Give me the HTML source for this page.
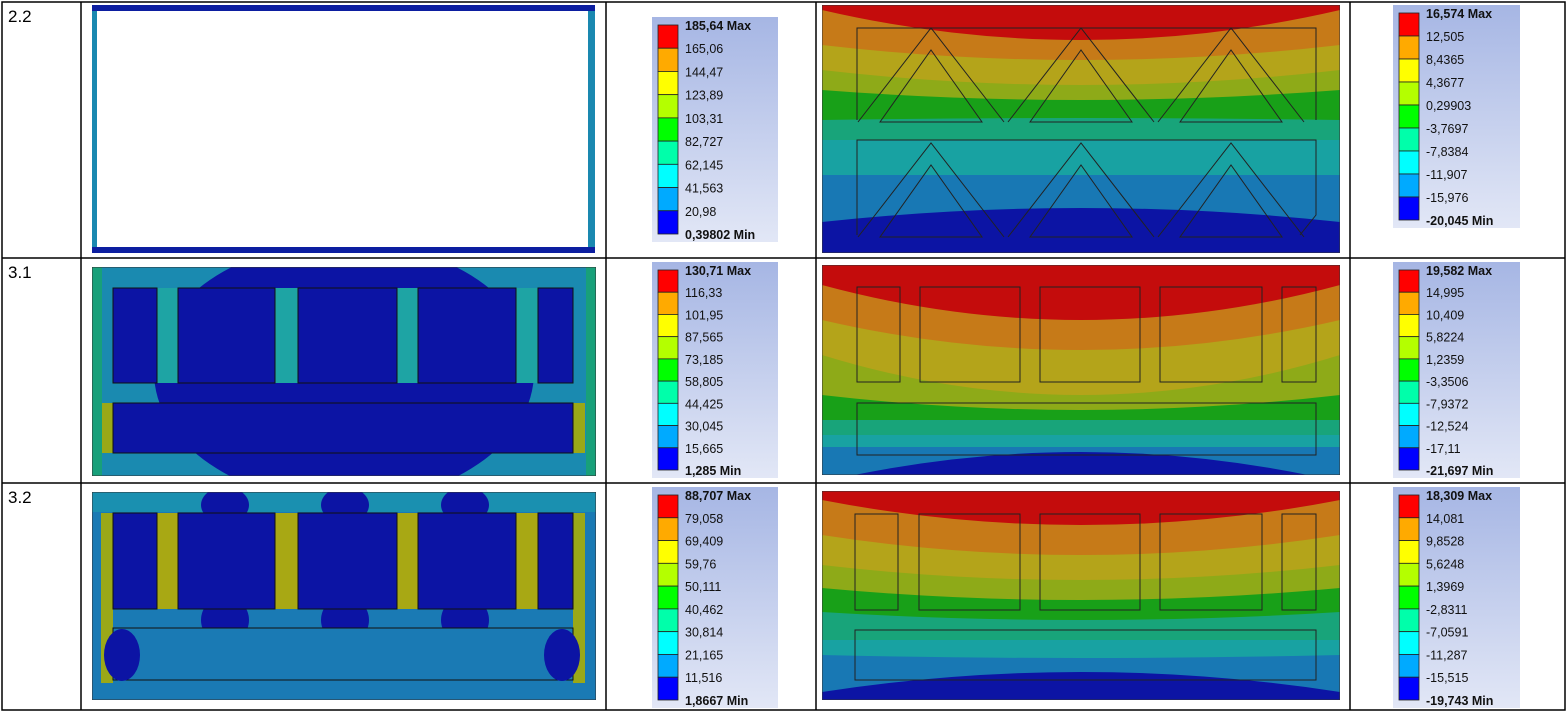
<!DOCTYPE html>
<html><head><meta charset="utf-8">
<style>
body{margin:0;background:#fff;font-family:"Liberation Sans",sans-serif}
svg{display:block}
.lbl{font-family:"Liberation Sans",sans-serif;font-size:17px}
.lg{font-family:"Liberation Sans",sans-serif;font-size:12.5px;fill:#111}
.lgb{font-weight:bold}
</style></head>
<body>
<svg id="s" width="1567" height="714" viewBox="0 0 1567 714">
<defs>
<linearGradient id="lgbg" x1="0" y1="0" x2="0" y2="1"><stop offset="0" stop-color="#a6b6e4"/><stop offset="1" stop-color="#e2e7f6"/></linearGradient>
<clipPath id="c1"><rect x="92" y="5" width="503" height="248"/></clipPath>
<clipPath id="c2"><rect x="822" y="5" width="518" height="248"/></clipPath>
<clipPath id="c3"><rect x="92" y="267" width="504" height="209"/></clipPath>
<clipPath id="c4"><rect x="822" y="265" width="518" height="210"/></clipPath>
<clipPath id="c5"><rect x="92" y="492" width="504" height="208"/></clipPath>
<clipPath id="c6"><rect x="822" y="491" width="518" height="209"/></clipPath>
</defs>
<g id="cells"></g>
<g id="grid" stroke="#000" stroke-width="1.5" fill="none">
<rect x="2" y="2" width="1563" height="708"/>
<line x1="2" y1="258" x2="1565" y2="258"/><line x1="2" y1="483" x2="1565" y2="483"/>
<line x1="81" y1="2" x2="81" y2="710"/><line x1="606" y1="2" x2="606" y2="710"/>
<line x1="816" y1="2" x2="816" y2="710"/><line x1="1350" y1="2" x2="1350" y2="710"/>
</g>
<text class="lbl" x="8" y="22">2.2</text>
<text class="lbl" x="8" y="278">3.1</text>
<text class="lbl" x="8" y="503">3.2</text>
</svg>
<script>
const legendColors=["#ff0000","#ffaa00","#ffff00","#b4ff00","#00ff00","#00ffaa","#00ffff","#00aaff","#0000ff"];
const bandColors=["#c40c0c","#c67a18","#b4a41a","#8eaa18","#18a018","#18a47a","#18a2a2","#1878b4","#0c14a4"];
const legend22L=["185,64 Max","165,06","144,47","123,89","103,31","82,727","62,145","41,563","20,98","0,39802 Min"];
const legend22R=["16,574 Max","12,505","8,4365","4,3677","0,29903","-3,7697","-7,8384","-11,907","-15,976","-20,045 Min"];
const legend31L=["130,71 Max","116,33","101,95","87,565","73,185","58,805","44,425","30,045","15,665","1,285 Min"];
const legend31R=["19,582 Max","14,995","10,409","5,8224","1,2359","-3,3506","-7,9372","-12,524","-17,11","-21,697 Min"];
const legend32L=["88,707 Max","79,058","69,409","59,76","50,111","40,462","30,814","21,165","11,516","1,8667 Min"];
const legend32R=["18,309 Max","14,081","9,8528","5,6248","1,3969","-2,8311","-7,0591","-11,287","-15,515","-19,743 Min"];
// band boundaries [edgeY, centerY]
const bounds22=[[10,40],[45,60],[70,85],[90,100],[120,118],[140,140],[175,175],[222,208]];
const bounds31=[[285,320],[320,350],[355,395],[395,410],[420,420],[435,435],[447,447],[482,452]];
const bounds32=[[500,525],[535,555],[565,580],[588,600],[612,620],[640,640],[655,658],[692,672]];
const NS="http://www.w3.org/2000/svg";
const g=document.getElementById('cells');
function el(tag,a,parent){const e=document.createElementNS(NS,tag);for(const k in a)e.setAttribute(k,a[k]);(parent||g).appendChild(e);return e;}
function legend(x,y,w,h,labels,name){
  const grp=el('g',{});
  
  
  el('rect',{x:x,y:y,width:w,height:h,fill:'url(#lgbg)'},grp);
  const top=y+8,bot=y+h-8,n=legendColors.length,step=(bot-top)/n;
  legendColors.forEach((c,i)=>{
    const r=el('rect',{x:x+6,y:top+i*step,width:20,height:step,fill:c,stroke:'#222','stroke-width':0.8},grp);
    
    
  });
  labels.forEach((t,i)=>{
    const tx=el('text',{x:x+33,y:top+i*step+5,class:'lg'+(i==0||i==labels.length-1?' lgb':'')},grp);
    tx.textContent=t;
    
    
  });
}
function contour(x,y,w,h,bounds,name,clip){
  const grp=el('g',{'clip-path':'url(#'+clip+')'});
  
  
  el('rect',{x:x,y:y,width:w,height:h,fill:bandColors[bandColors.length-1]},grp);
  for(let i=bounds.length-1;i>=0;i--){
    const [e,c]=bounds[i];
    const cy=2*c-e;
    const p=el('path',{d:`M${x},${y} L${x+w},${y} L${x+w},${e} Q${x+w/2},${cy} ${x},${e} Z`,fill:bandColors[i]},grp);
    
    
  }
  el('rect',{x:x,y:y,width:w,height:h,fill:'none',stroke:'#333','stroke-width':1},grp);
  return grp;
}
// Row 2.2
legend(652,17,126,225,legend22L,'legend-2-2-left');
legend(1393,5,127,223,legend22R,'legend-2-2-right');
const p1=el('g',{'clip-path':'url(#c1)'});


el('rect',{x:92,y:5,width:503,height:248,fill:'#1a88b0'},p1);
el('rect',{x:92,y:5,width:503,height:6,fill:'#0c1ea0'},p1);
el('rect',{x:92,y:247,width:503,height:6,fill:'#0c1ea0'},p1);
el('rect',{x:97,y:11,width:491,height:236,fill:'#fff'},p1);
const c22=contour(822,5,518,248,bounds22,'plot-2-2-right','c2');
[0,1,2].forEach(k=>{
  const bx=858+k*150;
  [[28,122],[143,237]].forEach(([t,b])=>{
    el('path',{d:`M${bx},${b} L${bx+73},${t} L${bx+146},${b}`,fill:'none',stroke:'#222','stroke-width':1},c22);
    el('path',{d:`M${bx+22},${b} L${bx+73},${t+22} L${bx+124},${b} Z`,fill:'none',stroke:'#222','stroke-width':1},c22);
  });
});
el('path',{d:'M857,120 L857,28 L1316,28 L1316,120 M857,235 L857,140 L1316,140 L1316,215 L1300,235',fill:'none',stroke:'#222','stroke-width':1},c22);
// Row 3.1
legend(652,262,126,216,legend31L,'legend-3-1-left');
legend(1393,262,127,216,legend31R,'legend-3-1-right');
function boxes(grp,yt,yb,fill,stroke){
  [[113,157],[178,275],[298,397],[418,516],[538,573]].forEach(([a,b])=>el('rect',{x:a,y:yt,width:b-a,height:yb-yt,fill:fill,stroke:stroke,'stroke-width':1},grp));
}
const p31=el('g',{'clip-path':'url(#c3)'});


el('rect',{x:92,y:267,width:504,height:209,fill:'#1a8ab0'},p31);
el('rect',{x:92,y:267,width:10,height:209,fill:'#18a07a'},p31);
el('rect',{x:586,y:267,width:10,height:209,fill:'#18a07a'},p31);
el('ellipse',{cx:344,cy:372,rx:190,ry:130,fill:'#0c14a4'},p31);
[[157,178],[275,298],[397,418],[516,538]].forEach(([a,b])=>el('rect',{x:a,y:288,width:b-a,height:95,fill:'#1ea4a4'},p31));
boxes(p31,288,383,'#0c14a4','#111');
el('rect',{x:102,y:403,width:11,height:50,fill:'#9aa818'},p31);
el('rect',{x:573,y:403,width:12,height:50,fill:'#9aa818'},p31);
el('rect',{x:113,y:403,width:460,height:50,fill:'#0c14a4',stroke:'#111'},p31);
el('rect',{x:92,y:267,width:504,height:209,fill:'none',stroke:'#333'},p31);
const c31=contour(822,265,518,210,bounds31,'plot-3-1-right','c4');
[[857,900],[920,1020],[1040,1140],[1160,1262],[1282,1316]].forEach(([a,b])=>el('rect',{x:a,y:287,width:b-a,height:95,fill:'none',stroke:'#222'},c31));
el('rect',{x:857,y:403,width:459,height:52,fill:'none',stroke:'#222'},c31);
// Row 3.2
legend(652,487,126,221,legend32L,'legend-3-2-left');
legend(1393,487,127,221,legend32R,'legend-3-2-right');
const p32=el('g',{'clip-path':'url(#c5)'});


el('rect',{x:92,y:492,width:504,height:208,fill:'#1a7ab4'},p32);
el('rect',{x:92,y:492,width:504,height:20,fill:'#1a90b0'},p32);
[[225,620],[345,620],[465,620]].forEach(([cx,cy])=>el('ellipse',{cx:cx,cy:cy,rx:24,ry:24,fill:'#0c14a4'},p32));
[[225,505],[345,505],[465,505]].forEach(([cx,cy])=>el('ellipse',{cx:cx,cy:cy,rx:24,ry:18,fill:'#0c14a4'},p32));
[[157,178],[275,298],[397,418],[516,538]].forEach(([a,b])=>el('rect',{x:a,y:513,width:b-a,height:96,fill:'#a8a814'},p32));
el('rect',{x:101,y:513,width:12,height:170,fill:'#9aa818'},p32);
el('rect',{x:573,y:513,width:12,height:170,fill:'#9aa818'},p32);
boxes(p32,513,609,'#0c14a4','#111');
el('rect',{x:113,y:628,width:460,height:52,fill:'#1a7ab4',stroke:'#111'},p32);
el('ellipse',{cx:122,cy:655,rx:18,ry:26,fill:'#0c14a4'},p32);
el('ellipse',{cx:562,cy:655,rx:18,ry:26,fill:'#0c14a4'},p32);
el('rect',{x:92,y:492,width:504,height:208,fill:'none',stroke:'#333'},p32);
const c32=contour(822,491,518,209,bounds32,'plot-3-2-right','c6');
[[855,898],[919,1020],[1040,1140],[1160,1262],[1282,1316]].forEach(([a,b])=>el('rect',{x:a,y:514,width:b-a,height:96,fill:'none',stroke:'#222'},c32));
el('rect',{x:855,y:630,width:461,height:50,fill:'none',stroke:'#222'},c32);
</script>
</body></html>
